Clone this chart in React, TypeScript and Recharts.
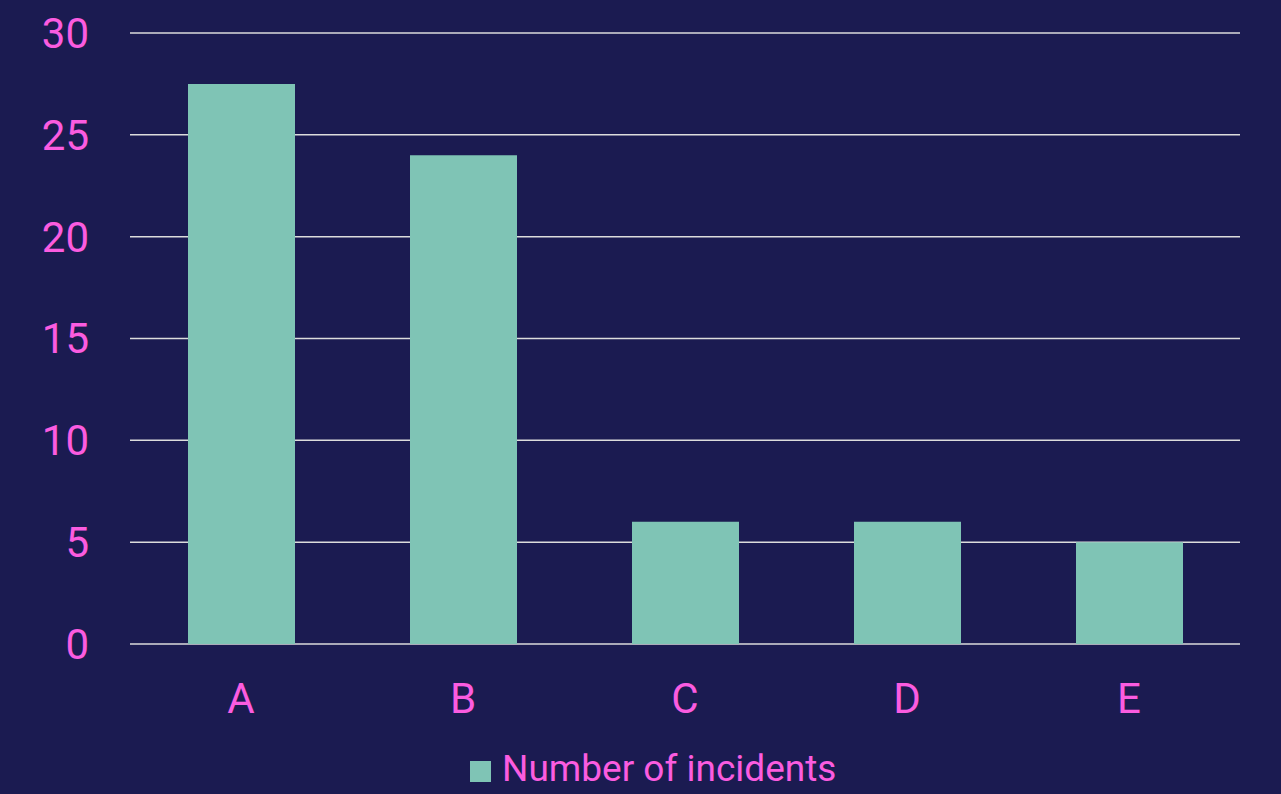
import React from "react";
import {
  BarChart,
  Bar,
  XAxis,
  YAxis,
  CartesianGrid,
  Legend,
} from "recharts";

const categories = ["A", "B", "C", "D", "E"];
const incidents = [27.5, 24, 6, 6, 5];
const yTicks = [0, 5, 10, 15, 20, 25, 30];
const seriesName = "Number of incidents";

const data = categories.map((name, i) => ({ name, incidents: incidents[i] }));

const pink = "#fb5ce0";
const teal = "#7fc4b5";
const font = "Roboto, sans-serif";

// legend drawn by hand so the square and the gap match the original
function LegendBox() {
  return (
    <div style={{ display: "flex", alignItems: "center", height: 42, fontFamily: font }}>
      <span style={{ display: "inline-block", width: 21, height: 21, background: teal, marginRight: 11, marginTop: 4 }} />
      <span style={{ color: pink, fontSize: 37, lineHeight: "42px" }}>{seriesName}</span>
    </div>
  );
}

export default function App() {
  return (
    <div style={{ position: "absolute", left: 0, top: 0, width: 1281, height: 794, background: "#1b1b51" }}>
      <BarChart
        width={1281}
        height={794}
        data={data}
        margin={{ top: 33, right: 41, left: 20, bottom: 4 }}
      >
        <CartesianGrid vertical={false} stroke="#dcdcdc" strokeWidth={1.5} />
        <XAxis
          dataKey="name"
          axisLine={false}
          tickLine={false}
          tickSize={6}
          tickMargin={33}
          height={104}
          tick={{ fill: pink, fontSize: 42, fontFamily: font }}
        />
        <YAxis
          domain={[0, 30]}
          ticks={yTicks}
          width={110}
          axisLine={false}
          tickLine={false}
          tickSize={6}
          tickMargin={35}
          tick={{ fill: pink, fontSize: 42, fontFamily: font }}
        />
        <Legend
          verticalAlign="bottom"
          content={() => <LegendBox />}
          wrapperStyle={{ left: 470, width: "auto" }}
        />
        <Bar
          dataKey="incidents"
          name={seriesName}
          fill={teal}
          barSize={107}
          isAnimationActive={false}
        />
      </BarChart>
    </div>
  );
}
